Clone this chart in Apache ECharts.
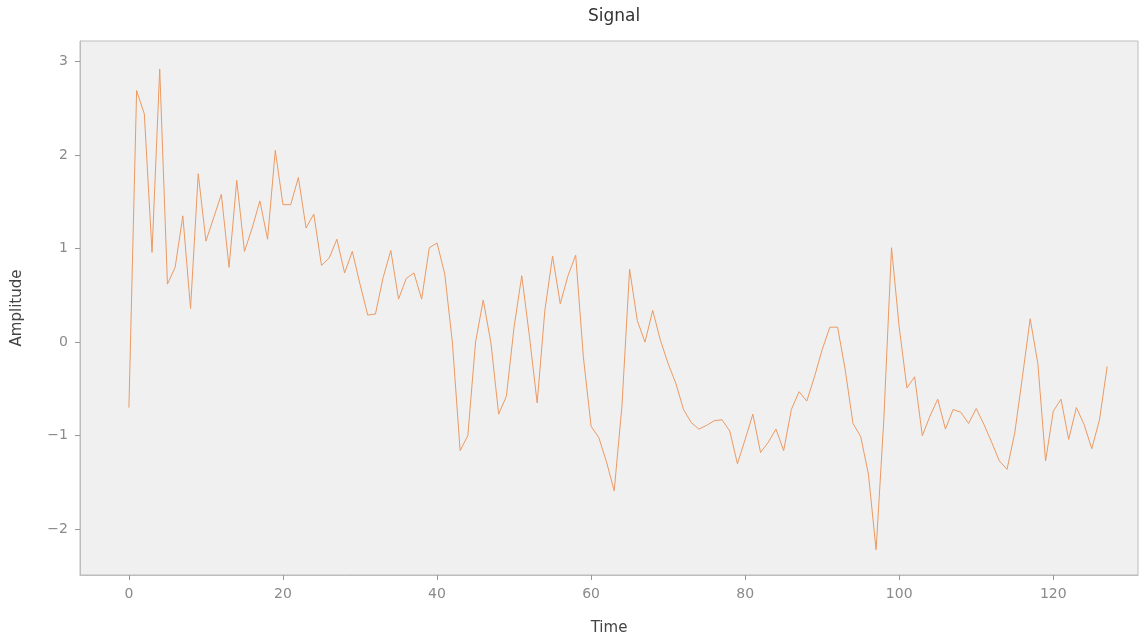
<!DOCTYPE html>
<html>
<head>
<meta charset="utf-8">
<script src="https://cdn.jsdelivr.net/npm/echarts@6/dist/echarts.min.js"></script>
<style>html,body{margin:0;padding:0;background:#fff;}#c{width:1146px;height:641px;}</style>
</head>
<body>
<div id="c"></div>
<script>
const timeIndex = Array.from({length: 128}, (_, i) => i);
const amplitude = [
 -0.70, 2.69, 2.44, 0.96, 2.92, 0.62, 0.80, 1.35, 0.36, 1.80,
  1.08, 1.33, 1.58, 0.80, 1.73, 0.97, 1.22, 1.51, 1.10, 2.05,
  1.47, 1.47, 1.76, 1.22, 1.37, 0.82, 0.90, 1.10, 0.74, 0.97,
  0.62, 0.29, 0.30, 0.69, 0.98, 0.46, 0.68, 0.74, 0.46, 1.01,
  1.06, 0.73, -0.01, -1.16, -1.00, 0.00, 0.45, -0.01, -0.77, -0.58,
  0.16, 0.71, 0.06, -0.65, 0.34, 0.92, 0.41, 0.71, 0.93, -0.16,
 -0.90, -1.02, -1.28, -1.59, -0.69, 0.78, 0.23, 0.00, 0.34, 0.02,
 -0.23, -0.44, -0.72, -0.86, -0.93, -0.89, -0.84, -0.83, -0.95, -1.30,
 -1.04, -0.77, -1.18, -1.07, -0.93, -1.16, -0.72, -0.53, -0.63, -0.37,
 -0.08, 0.16, 0.16, -0.30, -0.87, -1.01, -1.41, -2.22, -0.83, 1.01,
  0.16, -0.49, -0.37, -1.00, -0.79, -0.61, -0.93, -0.72, -0.75, -0.87,
 -0.71, -0.88, -1.07, -1.27, -1.36, -0.97, -0.37, 0.25, -0.23, -1.27,
 -0.74, -0.61, -1.04, -0.70, -0.88, -1.14, -0.83, -0.26
];
const xTicks = [0, 20, 40, 60, 80, 100, 120];
const yTicks = [-2, -1, 0, 1, 2, 3];
const title = 'Signal';
const xName = 'Time';
const yName = 'Amplitude';

const chart = echarts.init(document.getElementById('c'));
const fam = 'DejaVu Sans';
const tickColor = '#8a8a8a';
chart.setOption({
  animation: false,
  backgroundColor: '#fff',
  title: {
    text: title, left: 609, top: 3, textAlign: 'center',
    textStyle: {fontFamily: fam, fontSize: 17, fontWeight: 'normal', color: '#333'}
  },
  grid: {
    left: 80, top: 41, right: 8, bottom: 63, show: true,
    backgroundColor: '#f0f0f0', borderColor: '#bdbdbd', borderWidth: 1
  },
  xAxis: {
    type: 'value', min: -6.35, max: 131,
    name: xName, nameLocation: 'middle', nameGap: 46,
    nameTextStyle: {fontFamily: fam, fontSize: 15, color: '#444'},
    axisLine: {show: true, onZero: false, lineStyle: {color: '#bdbdbd'}},
    axisTick: {show: true, length: 5, lineStyle: {color: '#999'}, customValues: xTicks},
    axisLabel: {fontFamily: fam, fontSize: 14, color: tickColor, margin: 12, customValues: xTicks},
    splitLine: {show: false}
  },
  yAxis: {
    type: 'value', min: -2.49, max: 3.22,
    name: yName, nameLocation: 'middle', nameGap: 55, nameRotate: 90,
    nameTextStyle: {fontFamily: fam, fontSize: 15, color: '#444'},
    axisLine: {show: true, onZero: false, lineStyle: {color: '#bdbdbd'}},
    axisTick: {show: true, length: 5, lineStyle: {color: '#999'}, customValues: yTicks},
    axisLabel: {fontFamily: fam, fontSize: 14, color: tickColor, margin: 12, customValues: yTicks,
      formatter: v => (v < 0 ? '\u2212' + Math.abs(v) : String(v))},
    splitLine: {show: false}
  },
  series: [{
    type: 'line',
    data: timeIndex.map((t, i) => [t, amplitude[i]]),
    showSymbol: false,
    lineStyle: {color: '#ec9a62', width: 1},
    itemStyle: {color: '#ec9a62'}
  }]
});
</script>
</body>
</html>
